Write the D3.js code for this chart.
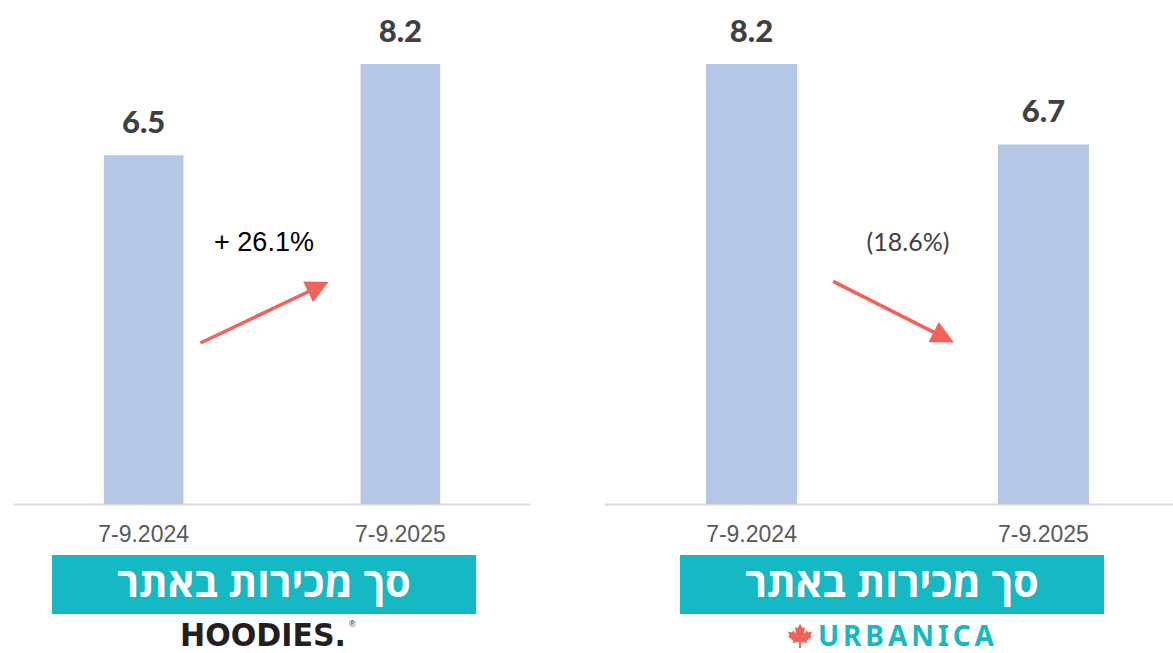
<!DOCTYPE html>
<html>
<head>
<meta charset="utf-8">
<script src="https://cdn.jsdelivr.net/npm/d3@7"></script>
<style>
  body { margin: 0; background: #fff; }
  svg { display: block; }
</style>
</head>
<body>
<div class="grafico"></div>
<script>
// datos
const periodos = ["7-9.2024", "7-9.2025"];
const ventasHoodies = [6.5, 8.2];
const ventasUrbanica = [8.2, 6.7];
const cambios = ["+ 26.1%", "(18.6%)"];
const titulo = "סך מכירות באתר";
const marcas = ["HOODIES.", "URBANICA"];
// flecha: valor inicial y final (en unidades del eje y)
const flechaHoodies = [3.0, 4.1];
const flechaUrbanica = [4.15, 3.05];

const width = 1173, height = 653;
const azul = "#b4c7e7", teal = "#14b9c4", rojo = "#f0625a";

var svg = d3.select(".grafico")
  .append("svg")
  .attr("width", width)
  .attr("height", height);

svg.append("defs").append("marker")
  .attr("id", "punta")
  .attr("viewBox", "0 0 10 10")
  .attr("refX", 8).attr("refY", 5)
  .attr("markerWidth", 7).attr("markerHeight", 6.5)
  .attr("markerUnits", "strokeWidth")
  .attr("orient", "auto")
  .append("path")
  .attr("d", "M0,0 L10,5 L0,10 Z")
  .attr("fill", rojo);

var y = d3.scaleLinear().domain([0, 8.2]).range([504, 64]);

function panel(valores, rango, pInner, pOuter, cambio, flecha, offs, centroBanner, estiloCambio) {
  var x = d3.scaleBand().domain(periodos).range(rango)
    .paddingInner(pInner).paddingOuter(pOuter);
  var g = svg.append("g");

  // linea base
  g.append("line")
    .attr("x1", rango[0]).attr("x2", Math.min(rango[1], width))
    .attr("y1", y(0) + 0.5).attr("y2", y(0) + 0.5)
    .attr("stroke", "#d9d9d9").attr("stroke-width", 2);

  g.selectAll(".bar")
    .data(valores)
    .enter()
    .append("rect")
    .attr("class", "bar")
    .attr("x", (d, i) => x(periodos[i]))
    .attr("width", x.bandwidth())
    .attr("y", d => y(d))
    .attr("height", d => y(0) - y(d))
    .attr("fill", azul);

  g.selectAll(".valor")
    .data(valores)
    .enter()
    .append("text")
    .attr("x", (d, i) => x(periodos[i]) + x.bandwidth() / 2)
    .attr("y", d => y(d) - 22)
    .attr("text-anchor", "middle")
    .attr("font-family", "Lato, 'Open Sans', sans-serif")
    .attr("font-weight", 900)
    .attr("font-size", 31)
    .attr("fill", "#404040")
    .text(d => d.toFixed(1));

  g.selectAll(".periodo")
    .data(periodos)
    .enter()
    .append("text")
    .attr("x", d => x(d) + x.bandwidth() / 2)
    .attr("y", 542)
    .attr("text-anchor", "middle")
    .attr("font-family", "'Liberation Sans', Arial, sans-serif")
    .attr("font-size", 23)
    .attr("fill", "#595959")
    .text(d => d);

  // flecha de cambio
  var x0 = x(periodos[0]) + x.bandwidth() + offs[0];
  var x1 = x(periodos[1]) - offs[1];
  g.append("line")
    .attr("x1", x0).attr("y1", y(flecha[0]))
    .attr("x2", x1).attr("y2", y(flecha[1]))
    .attr("stroke", rojo).attr("stroke-width", 3.5)
    .attr("marker-end", "url(#punta)");

  g.append("text")
    .attr("x", estiloCambio.x)
    .attr("y", 251)
    .attr("text-anchor", "middle")
    .attr("font-family", estiloCambio.font)
    .attr("font-size", estiloCambio.size)
    .attr("fill", estiloCambio.color)
    .text(cambio);

  // banner
  g.append("rect")
    .attr("x", centroBanner - 212).attr("y", 555)
    .attr("width", 424).attr("height", 59)
    .attr("fill", teal);
  g.append("text")
    .attr("x", centroBanner).attr("y", 597)
    .attr("text-anchor", "middle")
    .attr("font-family", "'Open Sans', 'DejaVu Sans', sans-serif")
    .attr("font-weight", 700)
    .attr("font-size", 41)
    .attr("fill", "#fff")
    .text(titulo);
  return g;
}

panel(ventasHoodies, [14, 530], 0.69, 0.35, cambios[0], flechaHoodies, [17, 36], 264,
  {x: 264, font: "'Liberation Sans', Arial, sans-serif", size: 27, color: "#000"});
panel(ventasUrbanica, [605, 1190], 0.688, 0.346, cambios[1], flechaUrbanica, [36, 48], 892,
  {x: 908, font: "Lato, 'Open Sans', sans-serif", size: 25, color: "#404040"});

// logos
svg.append("text")
  .attr("x", 180).attr("y", 646)
  .attr("font-family", "'DejaVu Sans Condensed', 'DejaVu Sans', sans-serif")
  .attr("font-weight", 700)
  .attr("font-size", 32)
  .attr("textLength", 166)
  .attr("lengthAdjust", "spacingAndGlyphs")
  .attr("fill", "#231f20")
  .text(marcas[0]);
svg.append("text")
  .attr("x", 349).attr("y", 627)
  .attr("font-family", "'Liberation Sans', Arial, sans-serif")
  .attr("font-size", 9)
  .attr("fill", "#231f20")
  .text("®");

svg.append("text")
  .attr("x", 818).attr("y", 646)
  .attr("font-family", "'Noto Sans', 'Open Sans', sans-serif")
  .attr("font-weight", 700)
  .attr("font-size", 28)
  .attr("textLength", 176)
  .attr("lengthAdjust", "spacing")
  .attr("fill", teal)
  .text(marcas[1]);

// hoja de arce
svg.append("path")
  .attr("transform", "translate(788,624)")
  .attr("d", "M12 0 L14.5 4 L17 3 L16 9.5 L19 6.5 L20 8.5 L24 7.5 L22.5 11.5 L24 12.5 L18.5 17 L19.5 19 L13 18 L13 24 L11 24 L11 18 L4.5 19 L5.5 17 L0 12.5 L1.5 11.5 L0 7.5 L4 8.5 L5 6.5 L8 9.5 L7 3 L9.5 4 Z")
  .attr("fill", rojo);
</script>
</body>
</html>
